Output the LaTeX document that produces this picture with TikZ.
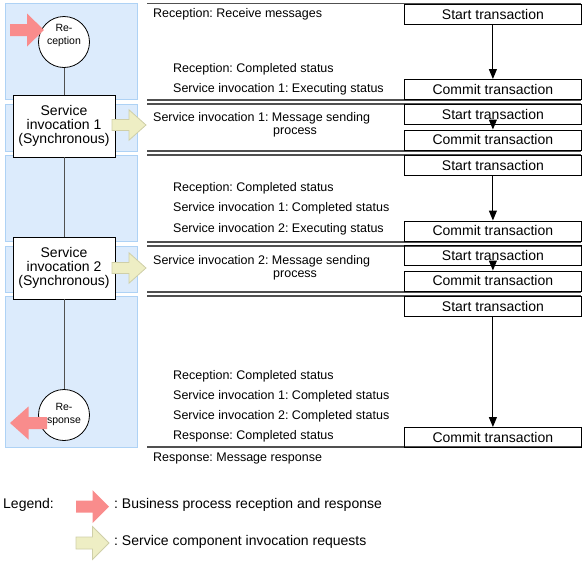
\documentclass[tikz,border=0pt]{standalone}
\usepackage{fontspec}
\setmainfont{Liberation Sans}
\usetikzlibrary{arrows.meta}
\frenchspacing

\definecolor{panelblue}{HTML}{DCEBFC}
\definecolor{panelline}{HTML}{AED2F5}
\definecolor{sepgray}{HTML}{505050}
\definecolor{recvpink}{HTML}{F98C8C}
\definecolor{callyellow}{HTML}{EEEEC4}
\definecolor{callline}{HTML}{CFCFA8}

\tikzset{
  panel/.style={fill=panelblue, draw=panelline, line width=1pt},
  sepline/.style={draw=sepgray, line width=1.2pt},
  txbox/.style={draw, line width=0.8pt, minimum width=177pt, minimum height=20pt,
    inner sep=0pt, anchor=north west, font=\fontsize{14}{16}\selectfont},
  sidetext/.style={anchor=west, inner sep=0pt, text height=9pt, text depth=2.5pt,
    align=left, font=\fontsize{12.5}{13}\selectfont},
  procnode/.style={draw, fill=white, line width=0.8pt, minimum width=102pt,
    minimum height=62pt, align=center, inner sep=0pt, font=\fontsize{14}{14}\selectfont},
  endnode/.style={draw, circle, fill=white, minimum size=51pt, inner sep=0pt, line width=0.8pt},
  endtext/.style={align=center, inner sep=0pt, font=\fontsize{10.5}{13}\selectfont},
  flow/.style={-{Triangle[length=10pt,width=8pt]}, line width=1pt},
  pics/fatarrow/.style={code={
    \path[pic actions] (0,-6) -- (17,-6) -- (17,-16.5) -- (34,0) -- (17,16.5) -- (17,6) -- (0,6) -- cycle;}},
  recvarrow/.style={fill=recvpink, draw=none},
  callarrow/.style={fill=callyellow, draw=callline, line width=0.8pt},
}

\begin{document}
\begin{tikzpicture}[x=1pt, y=-1pt]
        \useasboundingbox (0,0) rectangle (584,563);

        % Pannelli blu
        \draw[panel] (5,3) rectangle (137,99);
        \draw[panel] (5,104) rectangle (137,151);
        \draw[panel] (5,155) rectangle (137,241);
        \draw[panel] (5,246) rectangle (137,292);
        \draw[panel] (5,296) rectangle (137,447);

        % Linee di separazione
        \draw[sepline] (147,3.5) -- (581,3.5);
        \draw[sepline] (147,100) -- (581,100);
        \draw[sepline] (147,104) -- (581,104);
        \draw[sepline] (147,151) -- (581,151);
        \draw[sepline] (147,155) -- (581,155);
        \draw[sepline] (147,242) -- (581,242);
        \draw[sepline] (147,246) -- (581,246);
        \draw[sepline] (147,292) -- (581,292);
        \draw[sepline] (147,296) -- (581,296);
        \draw[sepline] (147,447) -- (581,447);

        % Flusso del processo
        \node[endnode] (recv) at (64,42) {};
        \node[procnode] (svc1) at (64,126) {Service\\invocation 1\\(Synchronous)};
        \node[procnode] (svc2) at (64,268) {Service\\invocation 2\\(Synchronous)};
        \node[endnode] (resp) at (64,415) {};
        \draw[line width=1pt, sepgray] (recv) -- (svc1);
        \draw[line width=1pt, sepgray] (svc1) -- (svc2);
        \draw[line width=1pt, sepgray] (svc2) -- (resp);
        \node[endtext] at (64,35.5) {Re-\\ception};
        \node[endtext] at (64,414) {Re-\\sponse};

        % Frecce ricezione / risposta / invocazione
        \pic[recvarrow] at (10,30) {fatarrow};
        \pic[recvarrow, xscale=-1, xscale=37/34] at (47,423) {fatarrow};
        \pic[callarrow, yscale=0.92] at (112,125) {fatarrow};
        \pic[callarrow, yscale=0.92] at (112,268) {fatarrow};

        % Transazioni
        \node[txbox] (st1) at (404,4) {Start transaction};
        \node[txbox] (ct1) at (404,79) {Commit transaction};
        \node[txbox] (st2) at (404,104) {Start transaction};
        \node[txbox] (ct2) at (404,129.5) {Commit transaction};
        \node[txbox] (st3) at (404,155) {Start transaction};
        \node[txbox] (ct3) at (404,220.5) {Commit transaction};
        \node[txbox] (st4) at (404,245) {Start transaction};
        \node[txbox] (ct4) at (404,270.5) {Commit transaction};
        \node[txbox] (st5) at (404,296) {Start transaction};
        \node[txbox] (ct5) at (404,427) {Commit transaction};
        \draw[flow] (st1) -- (ct1);
        \draw[flow] (st2) -- (ct2);
        \draw[flow] (st3) -- (ct3);
        \draw[flow] (st4) -- (ct4);
        \draw[flow] (st5) -- (ct5);

        % Stati
        \node[sidetext] (msgin) at (153,14) {Reception: Receive messages};
        \node[sidetext] (s1a) at (173,69) {Reception: Completed status};
        \node[sidetext] (s1b) at (173,89) {Service invocation 1: Executing status};
        \node[sidetext] (snd1) at (153,118) {Service invocation 1: Message sending};
        \node[sidetext] (snd1p) at (273,131) {process};
        \node[sidetext] (s3a) at (173,188) {Reception: Completed status};
        \node[sidetext] (s3b) at (173,208) {Service invocation 1: Completed status};
        \node[sidetext] (s3c) at (173,229) {Service invocation 2: Executing status};
        \node[sidetext] (snd2) at (153,261) {Service invocation 2: Message sending};
        \node[sidetext] (snd2p) at (273,274) {process};
        \node[sidetext] (s5a) at (173,376) {Reception: Completed status};
        \node[sidetext] (s5b) at (173,396) {Service invocation 1: Completed status};
        \node[sidetext] (s5c) at (173,416) {Service invocation 2: Completed status};
        \node[sidetext] (s5d) at (173,436) {Response: Completed status};
        \node[sidetext] (msgout) at (153,458) {Response: Message response};

        % Legenda
        \node[sidetext, font=\fontsize{14}{16}\selectfont] (leg) at (3,505) {Legend:};
        \pic[recvarrow, xscale=33/34] at (76,506.5) {fatarrow};
        \node[sidetext, font=\fontsize{14}{16}\selectfont] (legrecv) at (114,505) {: Business process reception and response};
        \pic[callarrow, xscale=33/34] at (76,543) {fatarrow};
        \node[sidetext, font=\fontsize{14}{16}\selectfont] (legcall) at (114,542) {: Service component invocation requests};

    \end{tikzpicture}
\end{document}
